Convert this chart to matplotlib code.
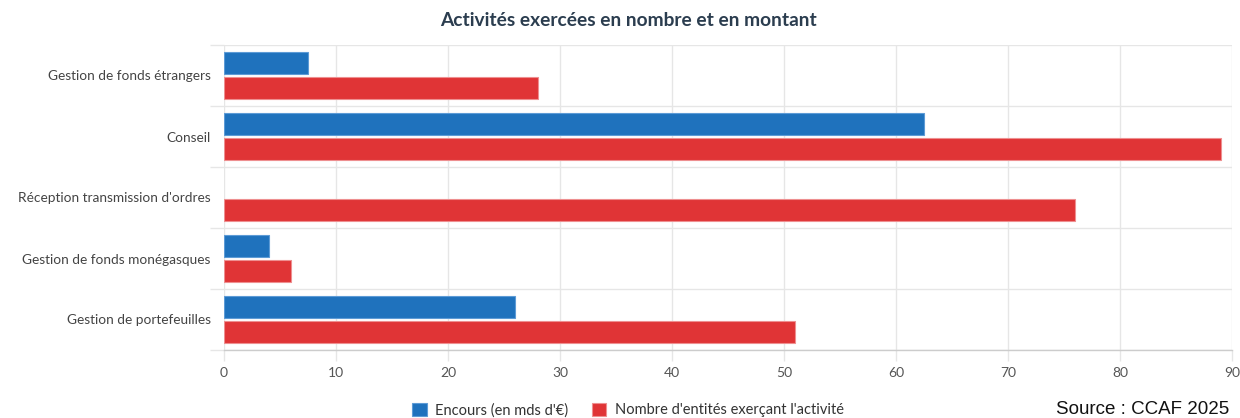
import matplotlib
matplotlib.use("Agg")
import matplotlib.pyplot as plt
import numpy as np

categories = ["Gestion de fonds étrangers", "Conseil", "Réception transmission d'ordres",
              "Gestion de fonds monégasques", "Gestion de portefeuilles"]
encours = [7.5, 62.5, 0, 4, 26]
nombre = [28, 89, 76, 6, 51]
series_names = ["Encours (en mds d'€)", "Nombre d'entités exerçant l'activité"]
xticks = [0, 10, 20, 30, 40, 50, 60, 70, 80, 90]

W, H = 1240, 418
fig = plt.figure(figsize=(W / 100, H / 100), dpi=100)
L, R, T, B = 224, 1232, 45, 350
ax = fig.add_axes([L / W, 1 - B / H, (R - L) / W, (B - T) / H])

plt.rcParams['font.family'] = ['Lato', 'DejaVu Sans']

blue = "#1f72bd"
red = "#e03436"
n = len(categories)
y = np.arange(n)
h = 0.36
off = 0.205
bars_b = ax.barh(y - off, encours, height=h, color=blue, edgecolor="#5d9bd6", linewidth=0.8, zorder=3,
                 label=series_names[0])
for b, v in zip(bars_b, encours):
    if v == 0:
        b.set_linewidth(0)
ax.barh(y + off, nombre, height=h, color=red, edgecolor="#ee8f90", linewidth=0.8, zorder=3,
        label=series_names[1])

ax.set_xlim(0, 90)
ax.set_ylim(n - 0.5, -0.5)
ax.set_xticks(xticks)
ax.set_xticklabels([str(v) for v in xticks], fontsize=10, color="#555555", family=['Lato', 'DejaVu Sans'])
ax.set_yticks(y)
ax.set_yticklabels(categories, fontsize=9.8, color="#444444", family=['Lato', 'DejaVu Sans'])
ax.set_yticks(np.arange(-0.5, n, 1), minor=True)

ax.grid(axis='x', color="#e6e6e6", linewidth=1, zorder=0)
ax.grid(axis='y', which='minor', color="#e6e6e6", linewidth=1, zorder=0)
ax.tick_params(axis='y', which='major', length=0, pad=9.5)
ax.tick_params(axis='y', which='minor', length=10, color="#e6e6e6", width=1)
ax.tick_params(axis='x', length=8, color="#e6e6e6", width=1, pad=4)

for s in ['top', 'right', 'left']:
    ax.spines[s].set_visible(False)
ax.spines['bottom'].set_color("#cccccc")
ax.spines['bottom'].set_linewidth(1)

fig.text(628 / W, 1 - 20 / H, "Activités exercées en nombre et en montant", ha='center', va='center',
         fontsize=13.8, fontweight='bold', color="#2b3d4f", family=['Lato', 'DejaVu Sans'])

leg = fig.legend(loc='center', bbox_to_anchor=(628 / W, 1 - 410 / H), ncol=2, frameon=False,
                 handlelength=1.0, handleheight=1.0, columnspacing=1.6,
                 handletextpad=0.6, prop={'family': ['Lato', 'DejaVu Sans'], 'size': 10.5})
for t in leg.get_texts():
    t.set_color("#333333")

fig.text(1056 / W, 1 - 401 / H, "Source : CCAF 2025", ha='left', va='top', fontsize=13.5,
         color="#111111", family=['Liberation Sans', 'DejaVu Sans'])

fig.savefig("out.png", dpi=100)
